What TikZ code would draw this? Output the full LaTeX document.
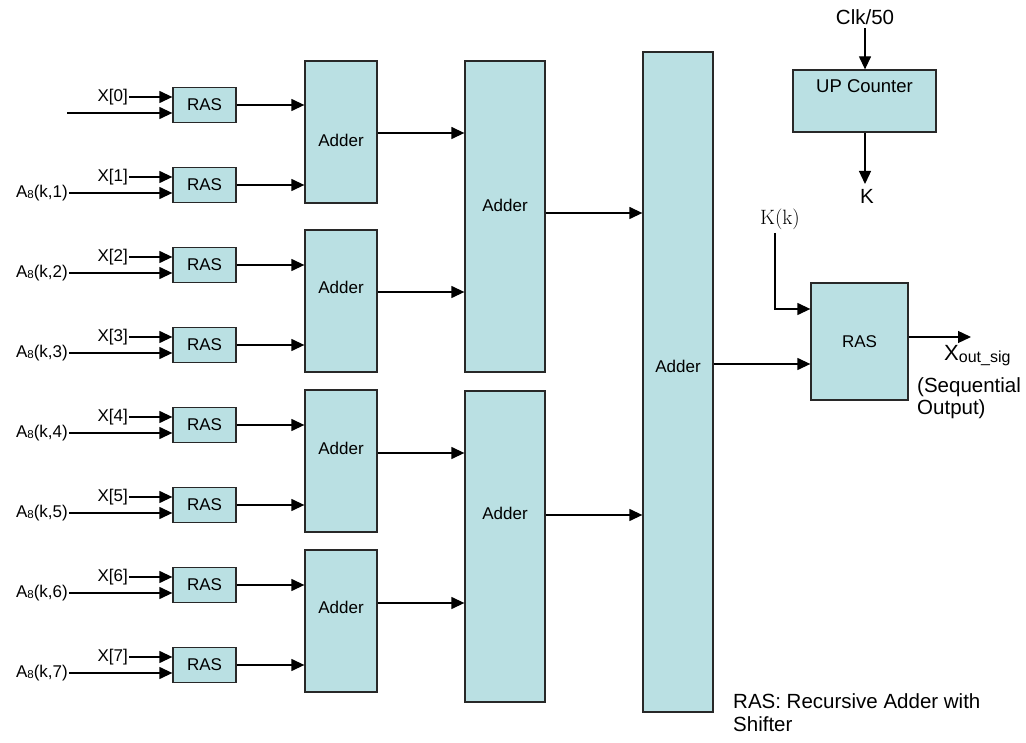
\documentclass[tikz,border=0pt]{standalone}
\usepackage[no-math]{fontspec}
\setmainfont{Liberation Sans}
\usetikzlibrary{arrows.meta}
\definecolor{boxc}{RGB}{186,224,227}
\definecolor{linec}{RGB}{40,40,40}
\begin{document}
\begin{tikzpicture}[x=1pt,y=-1pt,
  font=\fontsize{17}{23}\selectfont,
  arr/.style={-{Triangle[length=13pt,width=12pt]}, line width=1.3pt, draw=black},
  blk/.style={draw=linec, fill=boxc, line width=1.3pt, inner sep=0pt},
  rasbox/.style={blk, minimum width=63pt, minimum height=35pt},
  addA/.style={blk, minimum width=72pt, minimum height=142pt},
  addB/.style={blk, minimum width=80pt, minimum height=311pt},
  addC/.style={blk, minimum width=70pt, minimum height=660pt},
  lbl/.style={inner sep=1pt},
  big/.style={font=\fontsize{20.5}{22.5}\selectfont}]
\useasboundingbox (0,0) rectangle (1026,743);
\newcommand{\Aeight}{A\raisebox{-1pt}{\fontsize{11.5}{11.5}\selectfont 8}}
% RAS input stage
\foreach \i in {0,...,7} {
  \pgfmathsetmacro{\c}{105+80*\i}
  \node[rasbox] (r\i) at (204.5,\c) {RAS};
  \node[lbl, anchor=east] (x\i) at (129,\c-8) {X[\i]};
  \draw[arr] (x\i.east) -- (x\i.east -| r\i.west);
}
\coordinate (s0) at (67,113);
\draw[arr] (s0) -- (s0 -| r0.west);
\foreach \i in {1,...,7} {
  \pgfmathsetmacro{\c}{105+80*\i}
  \node[lbl, anchor=east] (a\i) at (69,\c+8) {\Aeight(k,\i)};
  \draw[arr] (a\i.east) -- (a\i.east -| r\i.west);
}
% first adder stage
\foreach \j/\cy/\ly in {0/132/140, 1/301/287, 2/461/448, 3/621/607} {
  \node[addA] (p\j) at (341,\cy) {};
  \node (pt\j) at (341,\ly) {Adder};
  \pgfmathtruncatemacro{\ka}{2*\j}
  \pgfmathtruncatemacro{\kb}{2*\j+1}
  \draw[arr] (r\ka.east) -- (r\ka.east -| p\j.west);
  \draw[arr] (r\kb.east) -- (r\kb.east -| p\j.west);
}
% second adder stage
\node[addB] (q0) at (505,216.5) {};
\node (qt0) at (505,205) {Adder};
\node[addB] (q1) at (505,546.5) {};
\node (qt1) at (505,513) {Adder};
\draw[arr] (p0.east |- 0,133) -- (q0.west |- 0,133);
\draw[arr] (p1.east |- 0,292) -- (q0.west |- 0,292);
\draw[arr] (p2.east |- 0,453) -- (q1.west |- 0,453);
\draw[arr] (p3.east |- 0,603) -- (q1.west |- 0,603);
% third adder stage
\node[addC] (s) at (678,382) {};
\node (st) at (678,366) {Adder};
\draw[arr] (q0.east |- 0,213) -- (s.west |- 0,213);
\draw[arr] (q1.east |- 0,515) -- (s.west |- 0,515);
% final RAS
\node[blk, minimum width=97pt, minimum height=117pt] (fr) at (859.5,341.5) {RAS};
\draw[arr] (s.east |- 0,364) -- (fr.west |- 0,364);
\node[inner sep=0pt, font=\fontsize{20}{20}\selectfont] (kk) at (780,219) {$\mathrm{K(k)}$};
\coordinate (kin) at (775,233);
\draw[arr] (kin) |- (fr.west |- 0,309);
\coordinate (xo) at (971,337);
\draw[arr] (fr.east |- xo) -- (xo);
\node[inner sep=0pt, anchor=west] (xout) at (944,356) {{\fontsize{22}{22}\selectfont X}\raisebox{-2pt}{\fontsize{16}{16}\selectfont out\_sig}};
\node[big, inner sep=0pt, anchor=north west, align=left] (seq) at (917,377) {(Sequential\\Output)};
% up counter
\node[blk, minimum width=143pt, minimum height=62pt] (cnt) at (864.5,101) {};
\node[font=\fontsize{18.5}{20}\selectfont] (cntt) at (864.5,86) {UP Counter};
\node[big] (clk) at (865,17) {Clk/50};
\draw[arr] (clk.south) -- (clk.south |- cnt.north);
\coordinate (kend) at (865,184);
\draw[arr] (cnt.south -| kend) -- (kend);
\node[big] (kl) at (867,196) {K};
% note
\node[big, inner sep=0pt, anchor=north west, align=left, font=\fontsize{20.5}{23}\selectfont] (note) at (733,693) {RAS: Recursive Adder with\\Shifter};
\end{tikzpicture}
\end{document}
